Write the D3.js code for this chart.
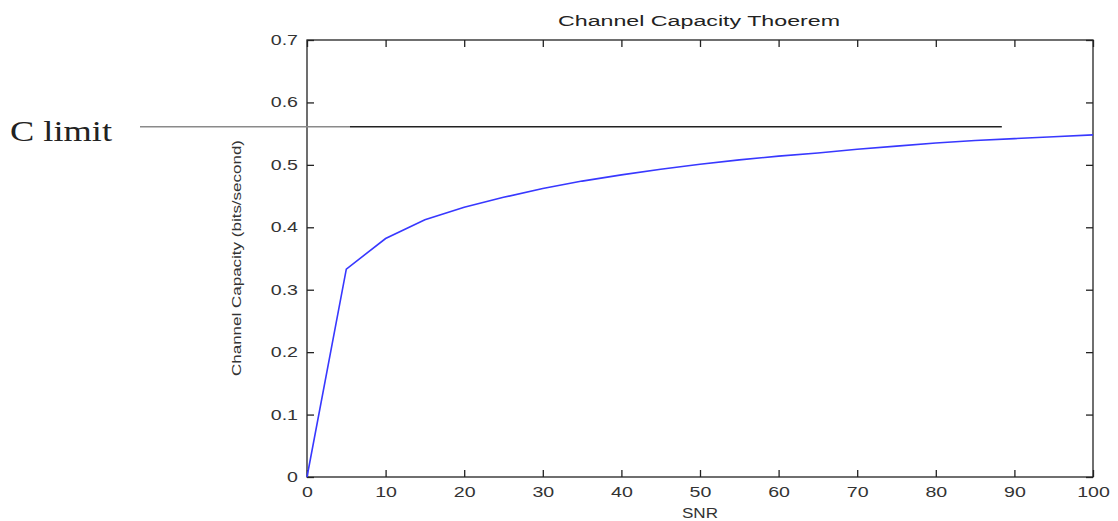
<!DOCTYPE html>
<html><head><meta charset="utf-8">
<script src="https://cdn.jsdelivr.net/npm/d3@7"></script>
<style>body{margin:0;background:#fff}svg{display:block}</style>
</head><body>
<svg id="c" width="1118" height="521"></svg>
<script>
const snr = [0,5,10,15,20,25,30,35,40,45,50,55,60,65,70,75,80,85,90,95,100];
const capacity = [0,0.333,0.382,0.412,0.432,0.448,0.462,0.474,0.484,0.493,0.501,0.508,0.514,0.519,0.525,0.530,0.535,0.539,0.542,0.545,0.548];
const xTicks = [0,10,20,30,40,50,60,70,80,90,100];
const yTicks = [0,0.1,0.2,0.3,0.4,0.5,0.6,0.7];
const cLimit = 0.561;
const cLimitEnd = 88.4;
const title = "Channel Capacity Thoerem";
const xLabel = "SNR";
const yLabel = "Channel Capacity (bits/second)";

const svg = d3.select("#c");
const L=307,R=1093,T=40,B=477;
const x = d3.scaleLinear().domain([0,100]).range([L,R]);
const y = d3.scaleLinear().domain([0,0.7]).range([B,T]);
const font = "'Liberation Sans', Arial, sans-serif";
const axCol = "#222";
const SX = 1.4;

// frame
svg.append("rect").attr("x",L).attr("y",T).attr("width",R-L).attr("height",B-T)
  .attr("fill","none").attr("stroke",axCol).attr("stroke-width",1.3);

function styleAxis(g){
  g.select(".domain").remove();
  g.selectAll(".tick line").attr("stroke",axCol).attr("stroke-width",1.3);
  g.selectAll("text").attr("font-family",font).attr("font-size",14).attr("fill","#333")
    .each(function(){
      const t = d3.select(this);
      const tx = +t.attr("x") || 0;
      t.attr("x",0).attr("transform",`translate(${tx},0) scale(${SX},1)`);
    });
}
svg.append("g").attr("transform",`translate(0,${B})`)
  .call(d3.axisBottom(x).tickValues(xTicks).tickSizeInner(-7).tickSizeOuter(0).tickPadding(10).tickFormat(d3.format("d")))
  .call(styleAxis);
svg.append("g").attr("transform",`translate(0,${T})`)
  .call(d3.axisTop(x).tickValues(xTicks).tickSizeInner(-7).tickSizeOuter(0).tickFormat(""))
  .call(styleAxis);
svg.append("g").attr("transform",`translate(${L},0)`)
  .call(d3.axisLeft(y).tickValues(yTicks).tickSizeInner(-7).tickSizeOuter(0).tickPadding(9).tickFormat(d=>d===0?"0":d3.format(".1f")(d)))
  .call(styleAxis);
svg.append("g").attr("transform",`translate(${R},0)`)
  .call(d3.axisRight(y).tickValues(yTicks).tickSizeInner(-7).tickSizeOuter(0).tickFormat(""))
  .call(styleAxis);

// C limit line
svg.append("line").attr("x1",140).attr("x2",350).attr("y1",y(cLimit)).attr("y2",y(cLimit))
  .attr("stroke","#8a8a8a").attr("stroke-width",1.5);
svg.append("line").attr("x1",350).attr("x2",x(cLimitEnd)).attr("y1",y(cLimit)).attr("y2",y(cLimit))
  .attr("stroke","#222").attr("stroke-width",1.5);
svg.append("text").attr("x",10).attr("y",y(cLimit)+14).text("C limit")
  .attr("font-family","'Liberation Serif','Times New Roman',serif").attr("font-size",29)
  .attr("textLength",102).attr("lengthAdjust","spacingAndGlyphs").attr("fill","#222");

// curve
svg.append("path").datum(snr.map((s,i)=>[s,capacity[i]]))
  .attr("d",d3.line().x(d=>x(d[0])).y(d=>y(d[1])))
  .attr("fill","none").attr("stroke","#3838ff").attr("stroke-width",1.6);

// labels
svg.append("text").attr("x",699).attr("y",26).attr("text-anchor","middle").text(title)
  .attr("font-family",font).attr("font-size",14).attr("fill","#222")
  .attr("textLength",282).attr("lengthAdjust","spacingAndGlyphs");
svg.append("text").attr("x",700).attr("y",518).attr("text-anchor","middle").text(xLabel)
  .attr("font-family",font).attr("font-size",14).attr("fill","#333")
  .attr("textLength",36).attr("lengthAdjust","spacingAndGlyphs");
svg.append("text").attr("transform","translate(241,258) rotate(-90)").attr("text-anchor","middle").text(yLabel)
  .attr("font-family",font).attr("font-size",13).attr("fill","#333")
  .attr("textLength",236).attr("lengthAdjust","spacingAndGlyphs");
</script>
</body></html>
